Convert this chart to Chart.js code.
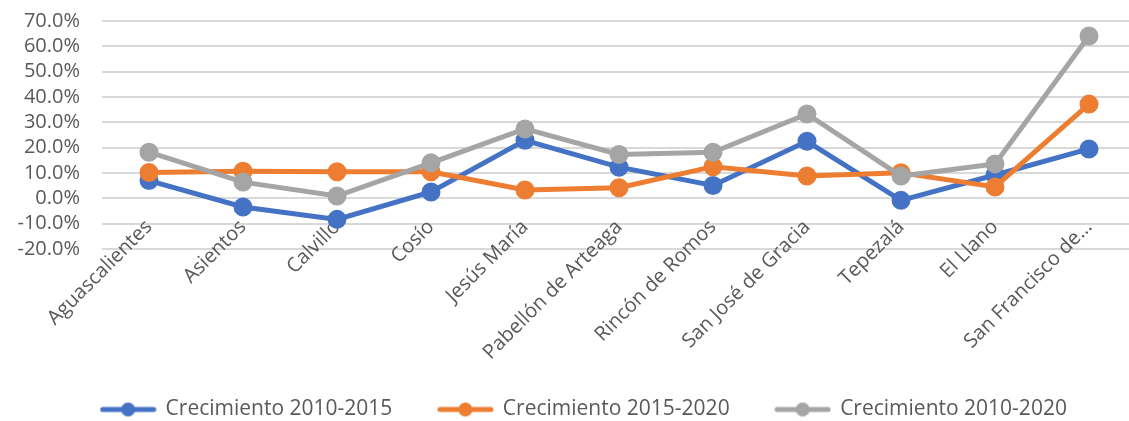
<!DOCTYPE html>
<html>
<head>
<meta charset="utf-8">
<script src="https://cdn.jsdelivr.net/npm/chart.js@4.4.1/dist/chart.umd.min.js"></script>
<style>
  html, body { margin: 0; padding: 0; background: #fff; overflow: hidden; }
</style>
</head>
<body>
<canvas id="myChart" width="1148" height="430"></canvas>
<script>
// municipios
const categories = [
	"Aguascalientes",
	"Asientos",
	"Calvillo",
	"Cosío",
	"Jesús María",
	"Pabellón de Arteaga",
	"Rincón de Romos",
	"San José de Gracia",
	"Tepezalá",
	"El Llano",
	"San Francisco de…",
];

// percent values
const crec2010_2015 = [7.0, -3.4, -8.3, 2.5, 22.9, 12.3, 5.1, 22.5, -0.8, 9.2, 19.5];
const crec2015_2020 = [10.2, 10.7, 10.5, 10.5, 3.3, 4.2, 12.5, 8.8, 10.1, 4.5, 37.2];
const crec2010_2020 = [18.2, 6.4, 0.9, 14.0, 27.4, 17.3, 18.2, 33.3, 8.8, 13.6, 64.1];

const seriesNames = ["Crecimiento 2010-2015", "Crecimiento 2015-2020", "Crecimiento 2010-2020"];
const yTicks = [-20, -10, 0, 10, 20, 30, 40, 50, 60, 70];

const colors = ["#4472C4", "#ED7D31", "#A5A5A5"];
const textColor = "#595959";
const font = "'Open Sans', 'Noto Sans', sans-serif";

// legend marker: line with a dot, like Excel
function legendMarker(color) {
	var c = document.createElement("canvas");
	c.width = 57;
	c.height = 16;
	var g = c.getContext("2d");
	g.strokeStyle = color;
	g.lineWidth = 5;
	g.lineCap = "round";
	g.beginPath();
	g.moveTo(3, 8);
	g.lineTo(54, 8);
	g.stroke();
	g.fillStyle = color;
	g.beginPath();
	g.arc(28.5, 8, 7, 0, Math.PI * 2);
	g.fill();
	return c;
}

function makeSet(i, data, order) {
	return {
		label: seriesNames[i],
		data: data,
		borderColor: colors[i],
		backgroundColor: colors[i],
		pointBackgroundColor: colors[i],
		pointBorderColor: colors[i],
		borderWidth: 5,
		pointRadius: 7,
		pointHoverRadius: 7,
		tension: 0,
		fill: false,
		order: order,
	};
}

// nudge the legend a bit to the right, Excel centres it differently
const legendShift = {
	id: "legendShift",
	afterLayout(chart) {
		chart.legend.left += 12;
		chart.legend.right += 12;
	},
};

var ctx = document.getElementById("myChart").getContext("2d");
var myChart = new Chart(ctx, {
	type: "line",
	data: {
		labels: categories,
		datasets: [
			makeSet(0, crec2010_2015, 3),
			makeSet(1, crec2015_2020, 2),
			makeSet(2, crec2010_2020, 1),
		],
	},
	plugins: [legendShift],
	options: {
		responsive: false,
		animation: false,
		devicePixelRatio: 1,
		layout: {
			padding: { top: 21, left: 0, right: 4, bottom: 0 },
		},
		plugins: {
			tooltip: { enabled: false },
			legend: {
				display: true,
				position: "bottom",
				labels: {
					usePointStyle: true,
					pointStyleWidth: 54,
					padding: 46,
					color: textColor,
					font: { family: font, size: 21 },
					sort: (a, b) => a.datasetIndex - b.datasetIndex,
					generateLabels: (chart) => {
						const items = Chart.defaults.plugins.legend.labels.generateLabels(chart);
						items.forEach((it) => {
							it.pointStyle = legendMarker(colors[it.datasetIndex]);
						});
						return items;
					},
				},
			},
		},
		scales: {
			// category labels hang from the 0% line, like Excel
			x: {
				position: { y: 0 },
				offset: true,
				grid: { display: false, drawTicks: false },
				border: { display: false },
				ticks: {
					color: textColor,
					font: { family: font, size: 20 },
					minRotation: 45,
					maxRotation: 45,
					autoSkip: false,
					padding: 17,
				},
			},
			// empty axis, only keeps room for the labels above the legend
			xSpace: {
				type: "category",
				position: "bottom",
				grid: { display: false },
				border: { display: false },
				ticks: { display: false },
				afterFit: (scale) => {
					scale.height = 104;
				},
			},
			y: {
				min: -20,
				max: 70,
				afterBuildTicks: (scale) => {
					scale.ticks = yTicks.map((v) => ({ value: v }));
				},
				grid: {
					color: "#D9D9D9",
					lineWidth: 2,
					drawTicks: true,
					tickLength: 14,
					tickColor: "rgba(0,0,0,0)",
				},
				border: { display: false },
				ticks: {
					autoSkip: false,
					color: textColor,
					font: { family: font, size: 20 },
					padding: 8,
					callback: (v) => v.toFixed(1) + "%",
				},
				afterFit: (scale) => {
					scale.width = 102;
				},
			},
		},
	},
});
</script>
</body>
</html>
